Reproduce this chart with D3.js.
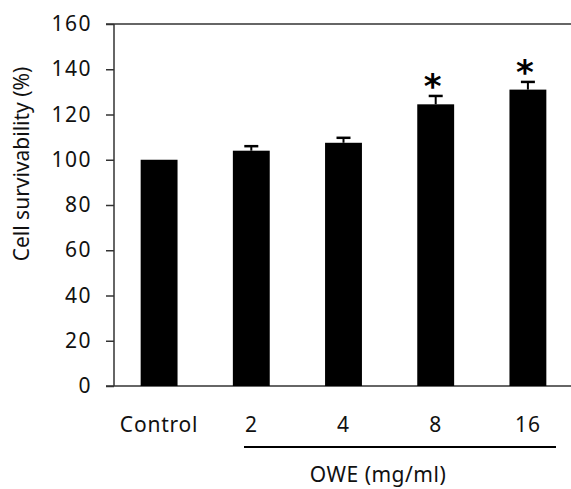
<!DOCTYPE html>
<html>
<head>
<meta charset="utf-8">
<script src="https://cdn.jsdelivr.net/npm/d3@7"></script>
<style>
  body { margin: 0; background: #fff; }
  svg { display: block; font-family: "Noto Sans", "DejaVu Sans", sans-serif; }
</style>
</head>
<body>
<script>
const categories = ["Control", "2", "4", "8", "16"]
const values = [100, 104, 107.5, 124.5, 131]
const errors = [0, 2, 2.2, 3.7, 3.4]
const significant = [false, false, false, true, true]
const yTicks = [0, 20, 40, 60, 80, 100, 120, 140, 160]

const W = 571, H = 489
const plotTop = 24, plotBottom = 386, plotLeft = 114

const svg = d3.select('body')
    .append('svg')
    .attr('width', W)
    .attr('height', H)

const data = categories.map((c, i) => ({ cat: c, value: values[i], err: errors[i], sig: significant[i] }))

// scales
const x = d3.scaleBand()
    .domain(categories)
    .range([113, 574])
    .paddingInner(0.6)
    .paddingOuter(0.3)

const y = d3.scaleLinear()
    .domain([0, 160])
    .range([plotBottom, plotTop])

// y axis
const yAxis = svg.append('g')
    .attr('transform', `translate(${plotLeft},0)`)
    .call(d3.axisLeft(y).tickValues(yTicks).tickSize(8).tickPadding(14))
yAxis.select('.domain').remove()
yAxis.selectAll('.tick line').attr('stroke', '#333').attr('stroke-width', 1.5)
yAxis.selectAll('.tick text')
    .attr('font-size', 21)
    .attr('letter-spacing', 1.5)
    .attr('fill', '#111')
    .attr('font-family', '"Noto Sans", sans-serif')

// frame lines: left axis, top line, bottom line
svg.append('line')
    .attr('x1', plotLeft).attr('x2', plotLeft)
    .attr('y1', y(160)).attr('y2', y(0))
    .attr('stroke', '#333').attr('stroke-width', 1.5)
svg.append('line')
    .attr('x1', plotLeft - 8).attr('x2', W)
    .attr('y1', y(160)).attr('y2', y(160))
    .attr('stroke', '#333').attr('stroke-width', 1.5)
svg.append('line')
    .attr('x1', plotLeft - 8).attr('x2', W)
    .attr('y1', y(0)).attr('y2', y(0))
    .attr('stroke', '#333').attr('stroke-width', 1.5)

// bars
svg.selectAll('.bar')
    .data(data)
    .join('rect')
    .attr('class', 'bar')
    .attr('x', d => x(d.cat))
    .attr('y', d => y(d.value))
    .attr('width', x.bandwidth())
    .attr('height', d => y(0) - y(d.value))
    .attr('fill', '#000')

// error bars
const eb = svg.selectAll('.err')
    .data(data.filter(d => d.err > 0))
    .join('g')
    .attr('class', 'err')
eb.append('line')
    .attr('x1', d => x(d.cat) + x.bandwidth() / 2)
    .attr('x2', d => x(d.cat) + x.bandwidth() / 2)
    .attr('y1', d => y(d.value))
    .attr('y2', d => y(d.value + d.err))
    .attr('stroke', '#000').attr('stroke-width', 2)
eb.append('line')
    .attr('x1', d => x(d.cat) + x.bandwidth() / 2 - 7)
    .attr('x2', d => x(d.cat) + x.bandwidth() / 2 + 7)
    .attr('y1', d => y(d.value + d.err))
    .attr('y2', d => y(d.value + d.err))
    .attr('stroke', '#000').attr('stroke-width', 2.5)

// asterisks
svg.selectAll('.star')
    .data(data.filter(d => d.sig))
    .join('text')
    .attr('class', 'star')
    .attr('x', d => x(d.cat) + x.bandwidth() / 2 - 3)
    .attr('y', d => y(d.value + d.err) + 2)
    .attr('text-anchor', 'middle')
    .attr('font-size', 34)
    .attr('font-weight', 'bold')
    .attr('font-family', '"DejaVu Sans", sans-serif')
    .text('*')

// category labels
svg.selectAll('.cat')
    .data(data)
    .join('text')
    .attr('class', 'cat')
    .attr('x', d => x(d.cat) + x.bandwidth() / 2)
    .attr('y', 432)
    .attr('text-anchor', 'middle')
    .attr('font-size', 21)
    .attr('letter-spacing', 0.8)
    .attr('fill', '#111')
    .text(d => d.cat)

// underline under OWE doses
svg.append('line')
    .attr('x1', 244).attr('x2', 556)
    .attr('y1', 447).attr('y2', 447)
    .attr('stroke', '#000').attr('stroke-width', 2)

svg.append('text')
    .attr('x', 378)
    .attr('y', 482)
    .attr('text-anchor', 'middle')
    .attr('font-size', 21)
    .attr('letter-spacing', 0.5)
    .attr('fill', '#111')
    .text('OWE (mg/ml)')

// y label
svg.append('text')
    .attr('transform', 'translate(29,164) rotate(-90)')
    .attr('text-anchor', 'middle')
    .attr('font-size', 21)
    .attr('fill', '#111')
    .text('Cell survivability (%)')
</script>
</body>
</html>
